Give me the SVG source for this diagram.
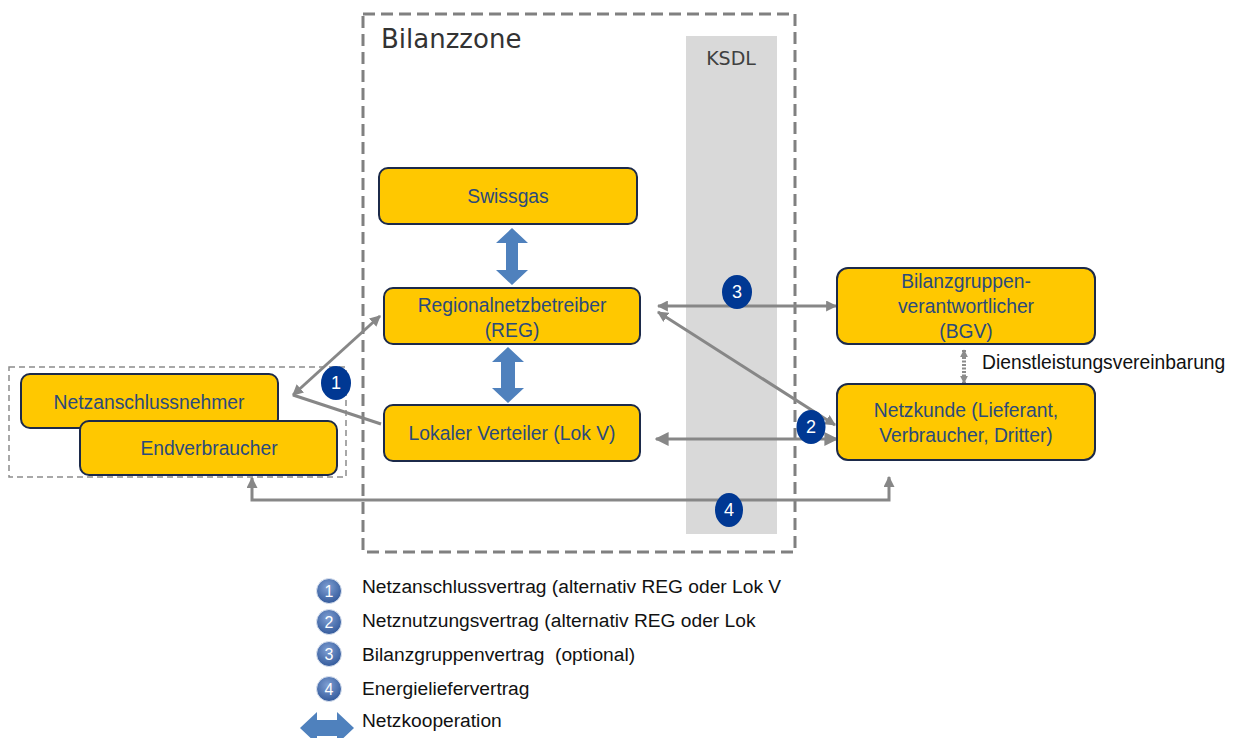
<svg xmlns="http://www.w3.org/2000/svg" width="1236" height="738" viewBox="0 0 1236 738">
  <style>
    .node rect { fill: #ffc800; stroke: #1c2a4a; stroke-width: 2; }
    .node text { font-family: "Liberation Sans", Arial, sans-serif; font-size: 19.3px; fill: #2b4a7c; text-anchor: middle; }
    .conn { stroke: #878787; stroke-width: 3; fill: none; }
    .badge ellipse { fill: #003893; }
    .badge text { font-family: "Liberation Sans", Arial, sans-serif; font-size: 18px; fill: #ffffff; text-anchor: middle; }
    .coop { fill: #4f81bd; }
    .legend text { font-family: "Liberation Sans", Arial, sans-serif; font-size: 19.2px; fill: #111111; white-space: pre; }
    .legend circle { fill: url(#badgeGrad); stroke: #dbe3f0; stroke-width: 1; }
    .legend .num { font-size: 16px; fill: #ffffff; text-anchor: middle; }
  </style>
  <defs>
    <marker id="ah" viewBox="0 0 10 10" refX="9" refY="5" markerUnits="userSpaceOnUse" markerWidth="11" markerHeight="11" orient="auto-start-reverse">
      <path d="M0,0 L10,5 L0,10 Z" fill="#878787"/>
    </marker>
    <marker id="ahl" viewBox="0 0 10 10" refX="9" refY="5" markerUnits="userSpaceOnUse" markerWidth="14" markerHeight="14" orient="auto-start-reverse">
      <path d="M0,0 L10,5 L0,10 Z" fill="#878787"/>
    </marker>
    <marker id="ahs" viewBox="0 0 10 10" refX="9" refY="5" markerUnits="userSpaceOnUse" markerWidth="8" markerHeight="8" orient="auto-start-reverse">
      <path d="M0,0 L10,5 L0,10 Z" fill="#8c8c8c"/>
    </marker>
    <radialGradient id="badgeGrad" cx="0.45" cy="0.35" r="0.7">
      <stop offset="0" stop-color="#7f9fd3"/>
      <stop offset="1" stop-color="#2e5597"/>
    </radialGradient>
  </defs>

  <rect width="1236" height="738" fill="#ffffff"/>

  <!-- KSDL band -->
  <g id="ksdl">
    <rect x="686" y="36" width="91" height="498" fill="#d9d9d9"/>
    <text x="731" y="65" font-family="DejaVu Sans, Verdana, sans-serif" font-size="19" fill="#404040" text-anchor="middle">KSDL</text>
  </g>

  <!-- Bilanzzone frame -->
  <g id="bilanzzone">
    <rect x="363" y="14" width="432" height="538" fill="none" stroke="#808080" stroke-width="3" stroke-dasharray="12,6"/>
    <text x="381" y="48" font-family="DejaVu Sans, Verdana, sans-serif" font-size="26" fill="#333333">Bilanzzone</text>
  </g>

  <!-- frame around the connection-side parties -->
  <rect id="kundengruppe" x="9" y="367" width="337" height="110" fill="none" stroke="#8c8c8c" stroke-width="1.5" stroke-dasharray="6,4"/>

  <!-- connectors -->
  <g id="connectors">
    <!-- 1: Netzanschlussvertrag -->
    <line class="conn" x1="293" y1="395" x2="380" y2="316" marker-start="url(#ah)" marker-end="url(#ah)"/>
    <line class="conn" x1="293" y1="395" x2="381" y2="424"/>
    <!-- 3: Bilanzgruppenvertrag -->
    <line class="conn" x1="658" y1="306" x2="836" y2="306" stroke-width="3.5" marker-start="url(#ah)" marker-end="url(#ah)"/>
    <!-- 2: Netznutzungsvertrag -->
    <line class="conn" x1="658" y1="312" x2="835" y2="425" marker-start="url(#ah)" marker-end="url(#ah)"/>
    <line class="conn" x1="656" y1="439" x2="837" y2="439" stroke-width="6" marker-start="url(#ahl)" marker-end="url(#ahl)"/>
    <!-- 4: Energieliefervertrag -->
    <polyline class="conn" points="252,478 252,500 889,500 889,477" marker-start="url(#ah)" marker-end="url(#ah)"/>
    <!-- Dienstleistungsvereinbarung -->
    <line x1="964" y1="350" x2="964" y2="383" stroke="#8c8c8c" stroke-width="4" stroke-dasharray="2,1.5" marker-start="url(#ahs)" marker-end="url(#ahs)"/>
    <text x="982" y="369" font-family="Liberation Sans, Arial, sans-serif" font-size="19.3" fill="#111111">Dienstleistungsvereinbarung</text>
    <!-- Netzkooperation -->
    <polygon class="coop" points="512,228 528,243 518,243 518,270 528,270 512,285 496,270 506,270 506,243 496,243"/>
    <polygon class="coop" points="508,347 524,362 515,362 515,388 524,388 508,403 492,388 501,388 501,362 492,362"/>
  </g>

  <!-- contract badges -->
  <g id="badges">
    <g class="badge"><ellipse cx="336" cy="383" rx="15" ry="17"/><text x="336" y="389">1</text></g>
    <g class="badge"><ellipse cx="811" cy="427" rx="14.5" ry="17"/><text x="811" y="433">2</text></g>
    <g class="badge"><ellipse cx="737" cy="292" rx="15" ry="17"/><text x="737" y="298">3</text></g>
    <g class="badge"><ellipse cx="729" cy="510" rx="14" ry="17"/><text x="729" y="516">4</text></g>
  </g>

  <!-- nodes -->
  <g id="swissgas" class="node">
    <rect x="379" y="168" width="258" height="56" rx="9"/>
    <text x="508" y="203">Swissgas</text>
  </g>
  <g id="reg" class="node">
    <rect x="384" y="288" width="256" height="56" rx="9"/>
    <text x="512" y="312">Regionalnetzbetreiber</text>
    <text x="512" y="337">(REG)</text>
  </g>
  <g id="lokv" class="node">
    <rect x="384" y="405" width="256" height="56" rx="9"/>
    <text x="512" y="440">Lokaler Verteiler (Lok V)</text>
  </g>
  <g id="bgv" class="node">
    <rect x="837" y="268" width="258" height="76" rx="11"/>
    <text x="966" y="288">Bilanzgruppen-</text>
    <text x="966" y="313">verantwortlicher</text>
    <text x="966" y="338">(BGV)</text>
  </g>
  <g id="netzkunde" class="node">
    <rect x="837" y="384" width="258" height="76" rx="11"/>
    <text x="966" y="417">Netzkunde (Lieferant,</text>
    <text x="966" y="442">Verbraucher, Dritter)</text>
  </g>
  <g id="netzanschlussnehmer" class="node">
    <rect x="21" y="374" width="257" height="54" rx="9"/>
    <text x="149" y="409">Netzanschlussnehmer</text>
  </g>
  <g id="endverbraucher" class="node">
    <rect x="80" y="421" width="257" height="54" rx="9"/>
    <text x="209" y="455">Endverbraucher</text>
  </g>

  <!-- legend -->
  <g id="legend" class="legend">
    <circle cx="329" cy="591" r="12.5"/><text class="num" x="329" y="597">1</text>
    <text x="362" y="593">Netzanschlussvertrag (alternativ REG oder Lok V</text>
    <circle cx="329" cy="622" r="12.5"/><text class="num" x="329" y="628">2</text>
    <text x="362" y="627">Netznutzungsvertrag (alternativ REG oder Lok</text>
    <circle cx="329" cy="654" r="12.5"/><text class="num" x="329" y="660">3</text>
    <text x="362" y="661">Bilanzgruppenvertrag  (optional)</text>
    <circle cx="329" cy="689" r="12.5"/><text class="num" x="329" y="695">4</text>
    <text x="362" y="695">Energieliefervertrag</text>
    <polygon class="coop" points="300,728 317,712 317,720 337,720 337,712 354,728 337,744 337,736 317,736 317,744"/>
    <text x="362" y="727">Netzkooperation</text>
  </g>
</svg>
